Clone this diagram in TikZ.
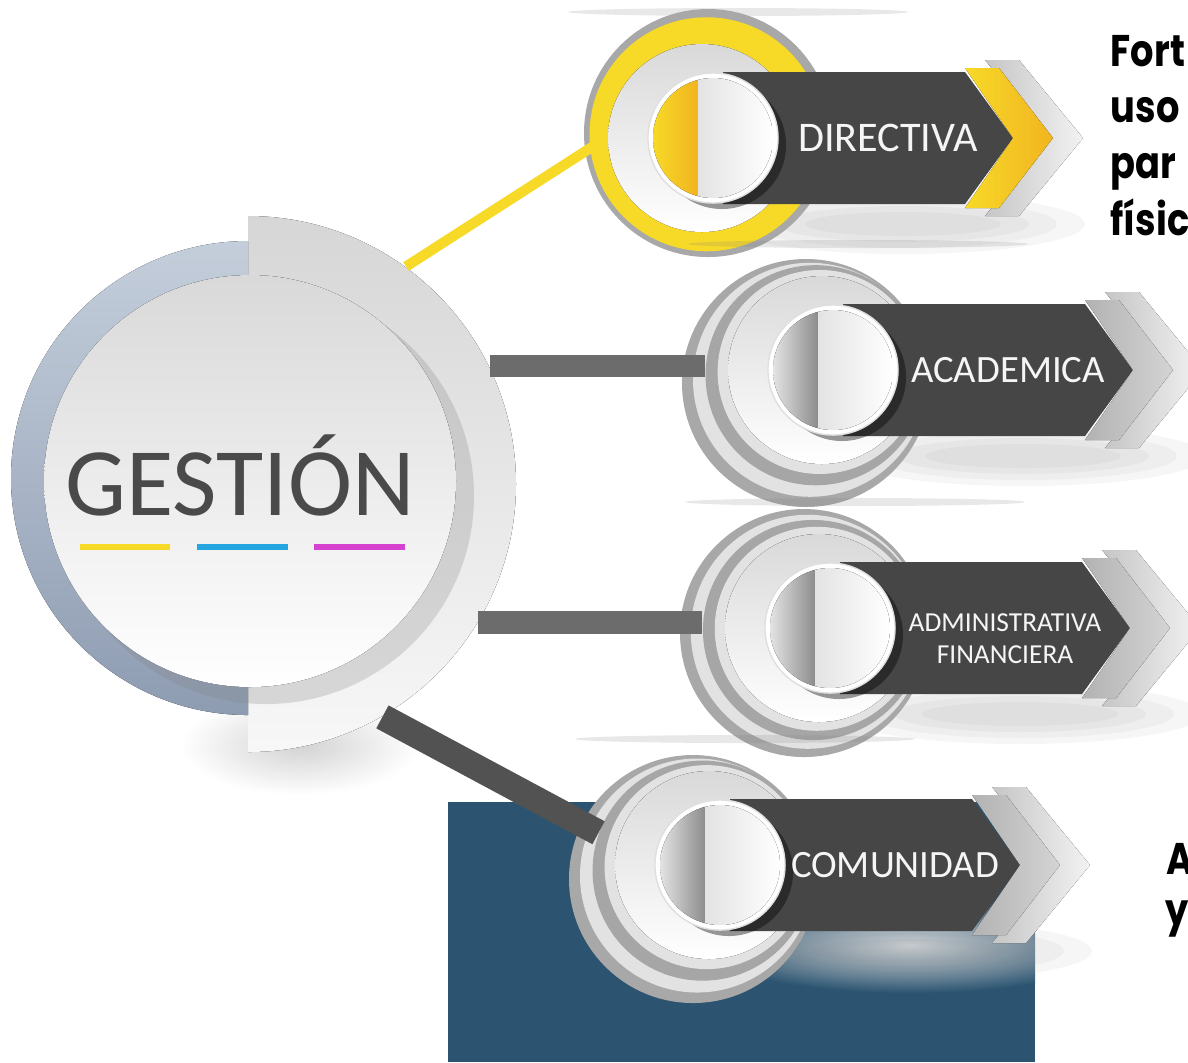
\documentclass[tikz,border=0pt]{standalone}
\usepackage{fontspec}
\setmainfont{Carlito}
\newfontfamily\gothfont{Poppins}[FakeStretch=0.83]
\usetikzlibrary{calc}

\definecolor{bluebg}{RGB}{44,84,112}
\definecolor{ringblue}{RGB}{196,206,219}
\definecolor{ringblueD}{RGB}{142,156,178}
\definecolor{banner}{RGB}{70,70,70}
\definecolor{txtgrey}{RGB}{74,74,74}
\definecolor{ringout}{RGB}{168,168,168}
\definecolor{gyellow}{RGB}{247,217,40}
\definecolor{gorange}{RGB}{241,180,32}
\definecolor{gcyan}{RGB}{38,166,224}
\definecolor{gmagenta}{RGB}{212,66,206}
\definecolor{bargrey}{RGB}{108,108,108}
\definecolor{bardark}{RGB}{82,82,82}
%% acento amarillo
\colorlet{yelLight}{gyellow}
\colorlet{yelIn}{gyellow}
\colorlet{yelHalfA}{gyellow}
\colorlet{yelHalfB}{gorange}
\colorlet{yelChevA}{gyellow}
\colorlet{yelChevB}{gorange}
%% acento gris
\definecolor{gryLight}{RGB}{226,226,226}
\definecolor{gryIn}{RGB}{166,166,166}
\definecolor{gryHalfA}{RGB}{228,228,228}
\definecolor{gryHalfB}{RGB}{140,140,140}
\definecolor{gryChevA}{RGB}{178,178,178}
\definecolor{gryChevB}{RGB}{212,212,212}

\newcommand{\Modulo}[6]{%
  \begin{scope}[shift={(#2)}]
    %% sombras
    \fill[gray, opacity=.18] (25,-126) ellipse [x radius=170, y radius=4];
    \foreach \s in {1,...,4}
      \fill[gray, opacity=.07] (190,86) ellipse [x radius={70+28*\s}, y radius={6+6*\s}];
    %% chevron de fondo
    \fill[backchev] (272,-78) -- (306,-78) -- (370,0) -- (306,78) -- (272,78) -- (336,0) -- cycle;
    %% anillos
    \fill[ringout] (#3) circle[radius=124];
    \fill[#4Light] ($(#3)!.25!(-11,0)$) circle[radius=117];
    \node[ringnode, fill=#4In] (#1R) at ($(#3)!.6!(-11,0)$) {};
    \fill[#4Light] ($(#3)!.85!(-11,0)$) circle[radius=102];
    \fill[top color=gray!30, bottom color=white] (-11,0) circle[radius=94];
    %% banda
    \fill[banner] (10,-66) -- (252,-66) -- (300,0) -- (252,66) -- (10,66) -- cycle;
    \fill[left color=#4ChevA, right color=#4ChevB] (252,-70) -- (286,-70) -- (340,0) -- (286,70) -- (252,70) -- (300,0) -- cycle;
    %% circulo
    \fill[black, opacity=.4] (9,7) circle[radius=64];
    \node[knob] (#1C) at (0,0) {};
    \begin{scope}
      \clip (0,0) circle[radius=60];
      \fill[left color=#4HalfA, right color=#4HalfB] (-60,-60) rectangle (-15,60);
      \fill[left color=gray!22, right color=white] (-15,-60) rectangle (60,60);
    \end{scope}
    \node[modtxt, #6] (#1) at (175,0) {#5};
  \end{scope}}

\begin{document}
\begin{tikzpicture}[x=0.01cm, y=-0.01cm]
  \tikzset{ringnode/.style={circle, minimum size=2.2cm, inner sep=0pt},
           knob/.style={circle, minimum size=1.3cm, inner sep=0pt, fill=white, draw=gray!25},
           backchev/.style={left color=gray!45, right color=gray!10},
           modtxt/.style={text=white!92!gray, font=\fontsize{11}{13}\selectfont, align=center, inner sep=0pt},
           gtitle/.style={text=txtgrey, font=\fontsize{27.5}{30}\selectfont, inner sep=0pt},
           gbar/.style={line width=1.7pt},
           conyel/.style={gyellow, line width=2.9pt},
           conbar/.style={bargrey, line width=6.3pt},
           condark/.style={bardark, line width=7.4pt},
           sidetxt/.style={anchor=base west, inner sep=0pt, font=\gothfont\bfseries\fontsize{12.6}{14}\selectfont}}
  \clip (0,0) rectangle (1188,1062);
  %% fondo azul
  \fill[bluebg] (448,802) rectangle (1035,1062);
  \begin{scope}
    \clip (448,802) rectangle (1035,1062);
    \shade[inner color=white!85!bluebg, outer color=bluebg] (910,945) ellipse [x radius=210, y radius=48];
  \end{scope}
  %% disco GESTION
  \node[circle, minimum size=5.36cm, inner sep=0pt] (gest) at (248,484) {};
  \shade[inner color=gray!35, outer color=white] (300,745) ellipse [x radius=120, y radius=50];
  \begin{scope}
    \clip (248,150) rectangle (600,800);
    \fill[top color=gray!32, bottom color=gray!6] (gest.center) circle[radius=268];
  \end{scope}
  \begin{scope}
    \clip (0,150) rectangle (248,800);
    \fill[top color=ringblue, middle color=ringblue, bottom color=ringblueD] (248,478) circle[radius=237];
  \end{scope}
  \fill[gray, opacity=.25] (266,496) circle[radius=208];
  \fill[top color=gray!30, bottom color=white] (250,481) circle[radius=206];
  \node[gtitle, anchor=base] (gtxt) at (240,515) {GESTIÓN};
  \draw[gbar, gyellow] (80,547) -- (170,547);
  \draw[gbar, gcyan] (197,547) -- (288,547);
  \draw[gbar, gmagenta] (314,547) -- (405,547);
  %% modulos
  \Modulo{dir}{713,138}{-5,-5}{yel}{DIRECTIVA}{font=\fontsize{12}{13}\selectfont}
  \Modulo{aca}{833,370}{-27,13}{gry}{ACADEMICA}{}
  \Modulo{adm}{830,628}{-26,5}{gry}{ADMINISTRATIVA\\FINANCIERA}{font=\fontsize{7.8}{9.1}\selectfont, shift={(0,11)}}
  \Modulo{com}{720,865}{-27,14}{gry}{COMUNIDAD}{}
  %% conectores
  \draw[conyel] (gest.54) -- (dirR.185);
  \draw[conbar] (gest.26) -- (gest.26 -| acaR.west);
  \draw[conbar] (gest.-31) -- (gest.-31 -| admR.west);
  \draw[condark] (gest.-60) -- (comR.160);
  %% texto lateral
  \node[sidetxt] (l1) at (1110,66) {Fort};
  \node[sidetxt] (l2) at (1110,122) {uso};
  \node[sidetxt] (l3) at (1110,178) {par};
  \node[sidetxt] (l4) at (1110,235) {físic};
  \node[sidetxt] (l5) at (1166,874) {A};
  \node[sidetxt] (l6) at (1165,925) {y};
\end{tikzpicture}
\end{document}
